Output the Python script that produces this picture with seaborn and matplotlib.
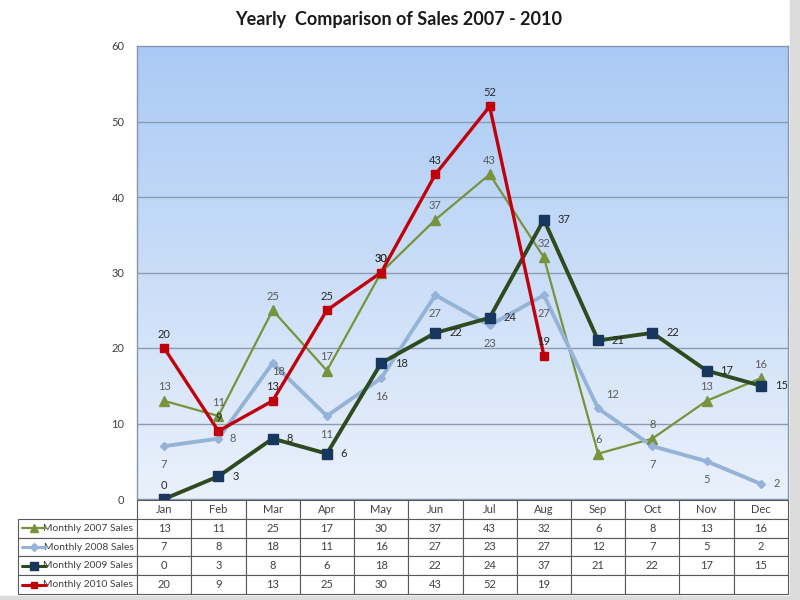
import numpy as np
import pandas as pd
import matplotlib
matplotlib.use("Agg")
import matplotlib.pyplot as plt
from matplotlib.lines import Line2D
from matplotlib.patches import Rectangle
import seaborn as sns

sns.set_theme(style="white")
plt.rcParams["font.family"] = ["Lato", "DejaVu Sans"]

# ── data ──────────────────────────────────────────────────────────────────────
MONTHS = ["Jan", "Feb", "Mar", "Apr", "May", "Jun",
          "Jul", "Aug", "Sep", "Oct", "Nov", "Dec"]
SALES_2007 = [13, 11, 25, 17, 30, 37, 43, 32, 6, 8, 13, 16]
SALES_2008 = [7, 8, 18, 11, 16, 27, 23, 27, 12, 7, 5, 2]
SALES_2009 = [0, 3, 8, 6, 18, 22, 24, 37, 21, 22, 17, 15]
SALES_2010 = [20, 9, 13, 25, 30, 43, 52, 19, None, None, None, None]
SERIES_NAMES = ["Monthly 2007 Sales", "Monthly 2008 Sales",
                "Monthly 2009 Sales", "Monthly 2010 Sales"]
Y_TICKS = [0, 10, 20, 30, 40, 50, 60]
TITLE = "Yearly  Comparison of Sales 2007 - 2010"

# ── styles ────────────────────────────────────────────────────────────────────
STYLES = {
    "Monthly 2007 Sales": dict(color="#77933c", lw=1.6, marker="^", ms=7,
                               mfc="#77933c", mec="#77933c"),
    "Monthly 2008 Sales": dict(color="#95b3d7", lw=2.8, marker="D", ms=4.5,
                               mfc="#95b3d7", mec="#95b3d7"),
    "Monthly 2009 Sales": dict(color="#2e4a1f", lw=2.8, marker="s", ms=6.5,
                               mfc="#17375e", mec="#17375e"),
    "Monthly 2010 Sales": dict(color="#c0000b", lw=2.4, marker="s", ms=5.5,
                               mfc="#c0000b", mec="#c0000b"),
}
# label placement per series (offset in points), a few exceptions for 2008
LABEL_POS = {
    "Monthly 2007 Sales": (0, 10),
    "Monthly 2008 Sales": (0, -13),
    "Monthly 2009 Sales": (10, 0),
    "Monthly 2010 Sales": (0, 10),
}
LABEL_COL = {
    "Monthly 2007 Sales": "#5a5a5a",
    "Monthly 2008 Sales": "#5a5a5a",
    "Monthly 2009 Sales": "#262626",
    "Monthly 2010 Sales": "#262626",
}
EXCEPT_2008 = {1: (8, 0), 2: (4, -6), 8: (6, 10), 11: (9, 0)}

values = [SALES_2007, SALES_2008, SALES_2009, SALES_2010]
df = pd.DataFrame({
    "idx": np.tile(np.arange(len(MONTHS)), len(SERIES_NAMES)),
    "series": np.repeat(SERIES_NAMES, len(MONTHS)),
    "sales": np.concatenate([np.array(v, dtype=float) for v in values]),
})

fig = plt.figure(figsize=(8, 6), dpi=100)
fig.patch.set_facecolor("white")
# soft frame shadow
fig.patches.append(Rectangle((0.987, 0.0), 0.013, 1.0, transform=fig.transFigure,
                             color="#dcdcdc", zorder=0))
fig.patches.append(Rectangle((0.0, 0.0), 1.0, 0.007, transform=fig.transFigure,
                             color="#dcdcdc", zorder=0))

ax = fig.add_axes([137 / 800, 1 - 499 / 600, (788 - 137) / 800, (499 - 46) / 600])

# gradient plot area
grad = np.linspace(0, 1, 256).reshape(-1, 1)
top = np.array([0.667, 0.792, 0.961])
bot = np.array([0.918, 0.945, 0.984])
img = top[None, None, :] * (1 - grad[..., None]) + bot[None, None, :] * grad[..., None]
ax.imshow(img, extent=[0, 1, 0, 1], transform=ax.transAxes, aspect="auto", zorder=0)

for y in Y_TICKS[1:-1]:
    ax.axhline(y, color="#8b9bb0", lw=1.0, zorder=1)

for name in SERIES_NAMES:
    st = STYLES[name]
    sub = df[df["series"] == name].dropna()
    sns.lineplot(data=sub, x="idx", y="sales", ax=ax, color=st["color"],
                 lw=st["lw"], sort=False, zorder=3, legend=False)
    ax.plot(sub["idx"], sub["sales"], ls="none", marker=st["marker"],
            ms=st["ms"], mfc=st["mfc"], mec=st["mec"], zorder=4)
    for i, v in zip(sub["idx"], sub["sales"]):
        dx, dy = LABEL_POS[name]
        if name == "Monthly 2008 Sales" and i in EXCEPT_2008:
            dx, dy = EXCEPT_2008[i]
        if name == "Monthly 2009 Sales" and v == 0:
            dx, dy = 0, 10
        ha = "left" if dx > 5 else "center"
        ax.annotate(f"{int(v)}", (i, v), xytext=(dx, dy), textcoords="offset points",
                    ha=ha, va="center", fontsize=8, color=LABEL_COL[name], zorder=5)

ax.set_xlim(-0.5, len(MONTHS) - 0.5)
ax.set_ylim(Y_TICKS[0], Y_TICKS[-1])
ax.set_yticks(Y_TICKS)
ax.set_xticks([])
ax.set_xlabel("")
ax.set_ylabel("")
ax.tick_params(axis="y", length=0, pad=9, labelsize=8, labelcolor="#404040")
for s in ax.spines.values():
    s.set_color("#8497b0")
    s.set_linewidth(1.0)

# ── data table ────────────────────────────────────────────────────────────────
tax = fig.add_axes([18 / 800, 1 - 594 / 600, (788 - 18) / 800, (594 - 500) / 600])
tax.axis("off")
cell_text = []
for name, v in zip(SERIES_NAMES, values):
    cell_text.append([name] + ["" if x is None else str(x) for x in v])
lw_label = 119 / 770
lw_month = (1 - lw_label) / len(MONTHS)
tbl = tax.table(cellText=cell_text, colLabels=[""] + MONTHS,
                colWidths=[lw_label] + [lw_month] * len(MONTHS),
                cellLoc="center", bbox=[0, 0, 1, 1])
tbl.auto_set_font_size(False)
for (r, c), cell in tbl.get_celld().items():
    cell.set_edgecolor("#595959")
    cell.set_linewidth(0.8)
    cell.set_facecolor("white")
    cell.get_text().set_fontsize(8)
    cell.get_text().set_color("#404040")
    if r == 0 and c == 0:
        cell.visible_edges = ""
    if c == 0 and r > 0:
        cell.PAD = 0.03
        cell.get_text().set_horizontalalignment("right")
        cell.get_text().set_fontsize(7.4)

n_rows = len(SERIES_NAMES) + 1
for k, name in enumerate(SERIES_NAMES):
    st = STYLES[name]
    yc = 1 - (k + 1.5) / n_rows
    tax.add_line(Line2D([0.005, 0.036], [yc, yc], color=st["color"],
                        lw=min(st["lw"], 2.2), transform=tax.transAxes))
    tax.add_line(Line2D([0.0205], [yc], marker=st["marker"], ms=st["ms"] * 0.85,
                        mfc=st["mfc"], mec=st["mec"], transform=tax.transAxes))

fig.text(0.498, 1 - 20 / 600, TITLE, ha="center", va="center",
         fontsize=13, fontweight="bold", color="#1a1a1a")

plt.savefig("out.png", dpi=100)
